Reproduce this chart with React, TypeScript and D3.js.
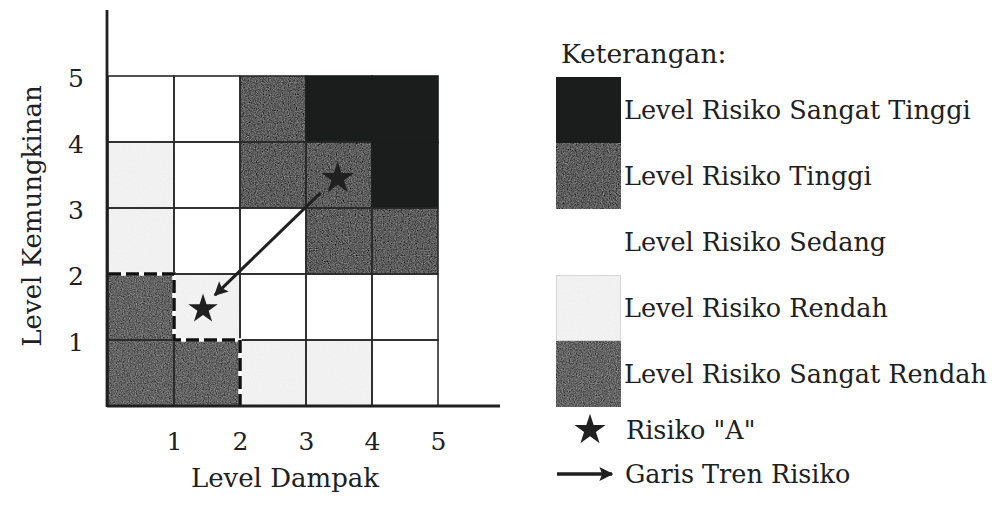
import { useEffect, useRef } from "react"
import * as d3 from "d3"

const W = 997
const H = 509

// data
const impactTicks = [1, 2, 3, 4, 5]
const likelihoodTicks = [1, 2, 3, 4, 5]
const riskLevels = [
  "Level Risiko Sangat Tinggi",
  "Level Risiko Tinggi",
  "Level Risiko Sedang",
  "Level Risiko Rendah",
  "Level Risiko Sangat Rendah",
]
// category index per cell, rows from likelihood 5 down to 1, columns impact 1..5
const matrixRows = [
  [2, 2, 1, 0, 0],
  [3, 2, 1, 1, 0],
  [3, 2, 2, 1, 1],
  [4, 3, 2, 2, 2],
  [4, 4, 3, 3, 2],
]
const riskImpact = [3.48, 1.44]
const riskLikelihood = [3.45, 1.47]
const trendFrom = [3.22, 3.23]
const trendTo = [1.62, 1.68]
const boundary: [number, number][] = [
  [0, 2],
  [1, 2],
  [1, 1],
  [2, 1],
  [2, 0],
]

const levelColors = ["#1b1d1d", "#5e5e5e", "#ffffff", "#f1f1f1", "#646464"]
const levelGrain = [null, "url(#grain)", null, "url(#grainLight)", "url(#grain)"]
const FONT = "'DejaVu Serif', serif"
const INK = "#202020"

export default function App() {
  const svgRef = useRef<SVGSVGElement | null>(null)

  useEffect(() => {
    if (!svgRef.current) return
    const svg = d3.select(svgRef.current)
    svg.selectAll("*").remove()

    const x = d3.scaleLinear().domain([0, 5]).range([108, 438])
    const y = d3.scaleLinear().domain([0, 5]).range([406, 76])

    const defs = svg.append("defs")
    const addGrain = (id: string, amount: number) => {
      const f = defs.append("filter").attr("id", id).attr("x", 0).attr("y", 0).attr("width", 1).attr("height", 1)
      f.append("feTurbulence")
        .attr("type", "fractalNoise")
        .attr("baseFrequency", 0.85)
        .attr("numOctaves", 2)
        .attr("seed", 7)
        .attr("result", "noise")
      f.append("feColorMatrix").attr("in", "noise").attr("type", "saturate").attr("values", 0).attr("result", "gnoise")
      f.append("feComposite")
        .attr("in", "SourceGraphic")
        .attr("in2", "gnoise")
        .attr("operator", "arithmetic")
        .attr("k1", 0)
        .attr("k2", 1)
        .attr("k3", amount)
        .attr("k4", -amount / 4)
    }
    addGrain("grain", 0.6)
    addGrain("grainLight", 0.12)

    defs
      .append("marker")
      .attr("id", "arrowhead")
      .attr("markerUnits", "userSpaceOnUse")
      .attr("viewBox", "0 0 10 10")
      .attr("refX", 9)
      .attr("refY", 5)
      .attr("markerWidth", 16)
      .attr("markerHeight", 14)
      .attr("orient", "auto")
      .append("path")
      .attr("d", "M0,0 L10,5 L0,10 L2,5 Z")
      .attr("fill", INK)

    // cells
    const cells = matrixRows.flatMap((row, r) =>
      row.map((level, c) => ({ impact: c + 1, likelihood: 5 - r, level })),
    )
    svg
      .append("g")
      .selectAll("rect")
      .data(cells)
      .join("rect")
      .attr("x", (d) => x(d.impact - 1))
      .attr("y", (d) => y(d.likelihood))
      .attr("width", (d) => x(d.impact) - x(d.impact - 1))
      .attr("height", (d) => y(d.likelihood - 1) - y(d.likelihood))
      .attr("fill", (d) => levelColors[d.level])
      .attr("filter", (d) => levelGrain[d.level])

    svg
      .append("g")
      .selectAll("rect")
      .data(cells)
      .join("rect")
      .attr("x", (d) => x(d.impact - 1))
      .attr("y", (d) => y(d.likelihood))
      .attr("width", (d) => x(d.impact) - x(d.impact - 1))
      .attr("height", (d) => y(d.likelihood - 1) - y(d.likelihood))
      .attr("fill", "none")
      .attr("stroke", (d) => (d.level === 0 ? levelColors[0] : "#2a2a2a"))
      .attr("stroke-width", 1.6)

    // dashed boundary
    const boundaryLine = d3
      .line<[number, number]>()
      .x((d) => x(d[0]))
      .y((d) => y(d[1]))
    svg.append("path").attr("d", boundaryLine(boundary)).attr("fill", "none").attr("stroke", "#fff").attr("stroke-width", 3.5)
    svg
      .append("path")
      .attr("d", boundaryLine(boundary))
      .attr("fill", "none")
      .attr("stroke", "#111")
      .attr("stroke-width", 3.5)
      .attr("stroke-dasharray", "13 5")

    // axes
    svg
      .append("line")
      .attr("x1", x(0) - 1)
      .attr("x2", x(5.94))
      .attr("y1", y(0))
      .attr("y2", y(0))
      .attr("stroke", INK)
      .attr("stroke-width", 2.8)
    svg
      .append("line")
      .attr("x1", x(0) - 1)
      .attr("x2", x(0) - 1)
      .attr("y1", y(0) + 1)
      .attr("y2", y(6))
      .attr("stroke", INK)
      .attr("stroke-width", 2.8)

    const xAxis = d3.axisBottom(x).tickValues(impactTicks).tickSize(0).tickPadding(26).tickFormat(d3.format("d"))
    const gx = svg.append("g").attr("transform", `translate(0,${y(0)})`).call(xAxis)
    gx.select(".domain").remove()
    gx.selectAll("text").style("font-family", FONT).style("font-size", "25px").attr("fill", INK)

    const yAxis = d3.axisLeft(y).tickValues(likelihoodTicks).tickSize(0).tickPadding(24).tickFormat(d3.format("d"))
    const gy = svg.append("g").attr("transform", `translate(${x(0)},0)`).call(yAxis)
    gy.select(".domain").remove()
    gy.selectAll("text").style("font-family", FONT).style("font-size", "25px").attr("fill", INK).attr("dy", "0.42em")

    svg
      .append("text")
      .attr("x", 285)
      .attr("y", 487)
      .attr("text-anchor", "middle")
      .style("font-family", FONT)
      .style("font-size", "26px")
      .attr("fill", INK)
      .text("Level Dampak")
    svg
      .append("text")
      .attr("transform", "translate(41,216) rotate(-90)")
      .attr("text-anchor", "middle")
      .style("font-family", FONT)
      .style("font-size", "26px")
      .attr("fill", INK)
      .text("Level Kemungkinan")

    // trend arrow & stars
    svg
      .append("line")
      .attr("x1", x(trendFrom[0]))
      .attr("y1", y(trendFrom[1]))
      .attr("x2", x(trendTo[0]))
      .attr("y2", y(trendTo[1]))
      .attr("stroke", INK)
      .attr("stroke-width", 3)
      .attr("marker-end", "url(#arrowhead)")

    const star = d3.symbol().type(d3.symbolStar)
    svg
      .append("g")
      .selectAll("path")
      .data(riskImpact.map((v, i) => ({ impact: v, likelihood: riskLikelihood[i] })))
      .join("path")
      .attr("transform", (d) => `translate(${x(d.impact)},${y(d.likelihood)})`)
      .attr("d", (d, i) => star.size(i === 0 ? 330 : 270)())
      .attr("fill", INK)

    // legend
    const lg = svg.append("g")
    lg.append("text")
      .attr("x", 561)
      .attr("y", 63)
      .style("font-family", FONT)
      .style("font-size", "26.5px")
      .attr("fill", INK)
      .text("Keterangan:")
    const ly = d3.scaleBand().domain(riskLevels).range([77, 407])
    lg.selectAll("rect.sw")
      .data(riskLevels)
      .join("rect")
      .attr("class", "sw")
      .attr("x", 556)
      .attr("y", (d) => ly(d)!)
      .attr("width", 65)
      .attr("height", ly.bandwidth())
      .attr("fill", (d, i) => levelColors[i])
      .attr("filter", (d, i) => levelGrain[i])
    lg.append("rect")
      .attr("x", 556.5)
      .attr("y", ly(riskLevels[3])! + 0.5)
      .attr("width", 64)
      .attr("height", ly.bandwidth() - 1)
      .attr("fill", "none")
      .attr("stroke", "#bbb")
      .attr("stroke-dasharray", "1 1")
    lg.selectAll("text.lbl")
      .data(riskLevels)
      .join("text")
      .attr("class", "lbl")
      .attr("x", 624)
      .attr("y", (d) => ly(d)! + ly.bandwidth() / 2)
      .attr("dy", "0.35em")
      .style("font-family", FONT)
      .style("font-size", "25.5px")
      .attr("fill", INK)
      .text((d) => d)

    lg.append("path")
      .attr("transform", "translate(590,430)")
      .attr("d", star.size(300)())
      .attr("fill", INK)
    lg.append("text")
      .attr("x", 626)
      .attr("y", 430)
      .attr("dy", "0.35em")
      .style("font-family", FONT)
      .style("font-size", "25.5px")
      .attr("fill", INK)
      .text('Risiko "A"')
    lg.append("line")
      .attr("x1", 557)
      .attr("x2", 612)
      .attr("y1", 474)
      .attr("y2", 474)
      .attr("stroke", INK)
      .attr("stroke-width", 3.5)
      .attr("marker-end", "url(#arrowhead)")
    lg.append("text")
      .attr("x", 625)
      .attr("y", 474)
      .attr("dy", "0.35em")
      .style("font-family", FONT)
      .style("font-size", "25.5px")
      .attr("fill", INK)
      .text("Garis Tren Risiko")
  }, [])

  return <svg ref={svgRef} width={W} height={H} style={{ position: "absolute", left: 0, top: 0, background: "#fff" }}></svg>
}
